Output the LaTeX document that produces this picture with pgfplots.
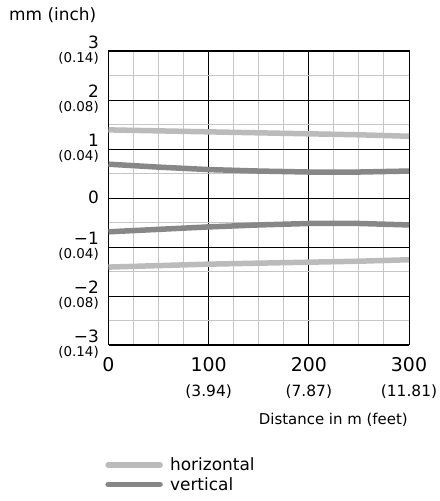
\documentclass[border=0pt]{standalone}
\usepackage{fontspec}
\setmainfont{DejaVu Sans}
\usepackage{pgfplots}
\pgfplotsset{compat=1.18}
\definecolor{lightline}{HTML}{BBBBBB}
\definecolor{darkline}{HTML}{878787}
\newcommand{\bigy}{\fontsize{17}{17}\selectfont}
\newcommand{\bigx}{\fontsize{19}{19}\selectfont}
\newcommand{\smally}{\fontsize{13.5}{14}\selectfont}
\newcommand{\smallx}{\fontsize{15.5}{16}\selectfont}
\begin{document}
\begin{tikzpicture}
\path[use as bounding box] (0bp,0bp) rectangle (440bp,501bp);
\begin{axis}[
    at={(108.5bp,156bp)}, anchor=south west,
    scale only axis, width=300.5bp, height=294bp,
    xmin=0, xmax=300, ymin=-3, ymax=3,
    clip=false,
    xtick={0,100,200,300},
    ytick={-3,-2,...,3},
    minor x tick num=3,
    minor y tick num=1,
    grid=both,
    major grid style={black, line width=0.9bp},
    minor grid style={gray!45, line width=1bp},
    axis line style={black, line width=1bp},
    major tick length=0pt, minor tick length=0pt,
    xticklabels={0,100,200,300},
    yticklabels={−3,−2,−1,\raisebox{-8.2bp}{0},1,2,3},
    xticklabel style={font=\bigx, anchor=base, inner sep=0pt, yshift=-27bp},
    yticklabel style={font=\bigy, anchor=base east, inner sep=0pt, xshift=-9.5bp, yshift=2.5bp},
    legend style={at={(rel axis cs:-0.012,-0.383)}, anchor=north west, draw=none, fill=none,
        font=\fontsize{17}{17}\selectfont, row sep=5bp, inner sep=0pt,
        nodes={inner sep=0pt, anchor=west},
        /tikz/every even column/.style={column sep=0pt}},
    legend cell align=left,
    legend image code/.code={
        \draw[#1, line cap=round] (3bp,0bp) -- (55bp,0bp);
        \path[draw=none] (0bp,-5bp) rectangle (65bp,5bp);},
]
\addplot[lightline, line width=5.5bp] coordinates {
    (0,1.39) (50,1.37) (100,1.35) (150,1.33) (200,1.31) (250,1.29) (300,1.26)};
\addlegendentry{horizontal}
\addplot[darkline, line width=5.5bp] coordinates {
    (0,0.69) (50,0.63) (100,0.58) (150,0.55) (200,0.53) (250,0.53) (300,0.55)};
\addlegendentry{vertical}
\addplot[darkline, line width=5.5bp, forget plot] coordinates {
    (0,-0.69) (50,-0.64) (100,-0.59) (150,-0.55) (200,-0.52) (250,-0.52) (300,-0.55)};
\addplot[lightline, line width=5.5bp, forget plot] coordinates {
    (0,-1.41) (50,-1.38) (100,-1.35) (150,-1.33) (200,-1.31) (250,-1.29) (300,-1.26)};
% inch values under the mm tick labels
\node[anchor=base east, font=\smally, inner sep=0pt] at ([xshift=-9.5bp,yshift=-12bp]axis cs:0,3) {(0.14)};
\node[anchor=base east, font=\smally, inner sep=0pt] at ([xshift=-9.5bp,yshift=-12bp]axis cs:0,2) {(0.08)};
\node[anchor=base east, font=\smally, inner sep=0pt] at ([xshift=-9.5bp,yshift=-12bp]axis cs:0,1) {(0.04)};
\node[anchor=base east, font=\smally, inner sep=0pt] at ([xshift=-9.5bp,yshift=-12bp]axis cs:0,-1) {(0.04)};
\node[anchor=base east, font=\smally, inner sep=0pt] at ([xshift=-9.5bp,yshift=-12bp]axis cs:0,-2) {(0.08)};
\node[anchor=base east, font=\smally, inner sep=0pt] at ([xshift=-9.5bp,yshift=-12bp]axis cs:0,-3) {(0.14)};
\node[anchor=base, font=\smallx, inner sep=0pt] at ([yshift=-51bp]axis cs:100,-3) {(3.94)};
\node[anchor=base, font=\smallx, inner sep=0pt] at ([yshift=-51bp]axis cs:200,-3) {(7.87)};
\node[anchor=base, font=\smallx, inner sep=0pt] at ([yshift=-51bp]axis cs:300,-3) {(11.81)};
\end{axis}
\node[anchor=base west, font=\fontsize{17}{17}\selectfont, inner sep=0pt] at (9bp,480bp) {mm (inch)};
\node[anchor=base east, font=\fontsize{15}{15}\selectfont, inner sep=0pt] at (408bp,76bp) {Distance in m (feet)};
\end{tikzpicture}
\end{document}
